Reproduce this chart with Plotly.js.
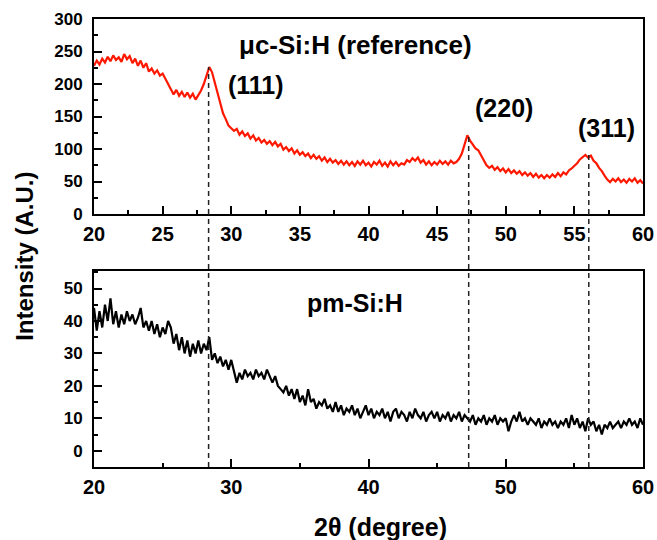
<!DOCTYPE html>
<html>
<head>
<meta charset="utf-8">
<script src="https://cdn.plot.ly/plotly-3.0.1.min.js"></script>
<style>html,body{margin:0;padding:0;background:#fff;}#chart{width:657px;height:540px;}</style>
</head>
<body>
<div id="chart"></div>
<script>
// 2-theta grid: 20.0 to 60.0 in 0.2 degree steps (5 samples per degree)
const twoThetaStart = 20;
const twoThetaStep = 0.2;

// uc-Si:H (reference) intensity, one row per degree
const mcSiH = [
  228,236,230,239,233,
  242,235,244,237,241,
  234,246,238,243,232,
  239,228,236,225,232,
  219,224,216,221,213,
  216,208,200,193,184,
  191,182,188,180,187,
  179,185,176,183,190,
  200,212,226,218,203,
  188,170,155,146,136,
  132,128,131,122,127,
  120,124,116,121,113,
  117,110,114,108,112,
  106,111,104,108,99,
  103,97,101,93,98,
  91,95,89,93,86,
  91,85,89,82,87,
  80,85,79,83,77,
  82,76,81,75,80,
  74,81,76,82,75,
  79,73,80,76,82,
  74,79,73,81,75,
  80,74,78,76,83,
  80,86,82,87,79,
  83,76,81,75,80,
  76,82,77,81,76,
  82,78,80,85,93,
  106,121,113,106,101,
  98,91,82,75,71,
  74,68,72,66,70,
  64,69,63,67,62,
  66,60,64,59,63,
  57,62,56,60,55,
  60,56,61,57,63,
  58,64,61,67,70,
  74,78,84,88,91,
  87,90,82,78,71,
  66,59,53,49,54,
  50,55,49,53,48,
  54,50,55,48,52,
  47
];

// pm-Si:H intensity, one row per degree
const pmSiH = [
  44,37,43,38,45,
  40,47,39,43,38,
  42,39,43,40,42,
  39,41,44,38,40,
  37,40,36,39,35,
  38,36,40,38,33,
  36,31,35,30,34,
  29,33,30,34,30,
  33,31,35,28,30,
  27,29,26,28,25,
  28,24,21,24,22,
  25,23,24,22,25,
  23,24,22,25,23,
  21,23,20,19,18,
  20,17,19,16,19,
  15,17,14,19,15,
  16,13,15,14,16,
  13,14,12,15,12,
  14,11,13,12,14,
  11,13,10,12,14,
  11,13,10,12,11,
  13,10,12,9,12,
  13,10,12,11,9,
  12,10,13,11,10,
  12,9,11,12,10,
  12,9,11,10,12,
  9,11,10,12,9,
  11,10,9,11,8,
  10,9,11,8,10,
  9,11,8,10,9,
  10,6,9,11,9,
  12,9,10,8,10,
  9,8,10,7,9,
  8,10,8,9,7,
  9,8,10,7,11,
  8,10,7,9,6,
  10,8,9,6,8,
  5,8,7,9,7,
  8,9,7,9,8,
  10,8,9,7,10,
  8
];

// Peak positions (degrees) and labels
const peakPositions = [28.35, 47.3, 56.05];
const peakLabels = ["(111)", "(220)", "(311)"];

// Major tick values
const topXTicks = [20, 25, 30, 35, 40, 45, 50, 55, 60];
const topYTicks = [0, 50, 100, 150, 200, 250, 300];
const botXTicks = [20, 30, 40, 50, 60];
const botYTicks = [0, 10, 20, 30, 40, 50];

const twoTheta = mcSiH.map((_, i) => +(twoThetaStart + i * twoThetaStep).toFixed(2));

const topDomain = [0.5647, 1];
const botDomain = [0, 0.4375];
const FONT = "Liberation Sans, Arial, Helvetica, sans-serif";

function peakValue(pos) {
  let m = 0;
  twoTheta.forEach((t, i) => { if (Math.abs(t - pos) <= 0.3 && mcSiH[i] > m) m = mcSiH[i]; });
  return m;
}

const traces = [
  {x: twoTheta, y: mcSiH, xaxis: 'x', yaxis: 'y', mode: 'lines',
   line: {color: 'rgb(255,24,0)', width: 2.2}, hoverinfo: 'skip'},
  {x: twoTheta, y: pmSiH, xaxis: 'x2', yaxis: 'y2', mode: 'lines',
   line: {color: '#000', width: 2.2}, hoverinfo: 'skip'}
];

const dashStyle = {color: '#222', width: 1.5, dash: '5px,4px'};
const shapes = [];
peakPositions.forEach(p => {
  shapes.push({type: 'line', xref: 'x', yref: 'y', x0: p, x1: p, y0: 0, y1: peakValue(p), line: dashStyle});
  shapes.push({type: 'line', xref: 'x', yref: 'paper', x0: p, x1: p, y0: 0, y1: topDomain[0], line: dashStyle});
});

const axBase = {
  showline: true, linecolor: '#000', linewidth: 2, mirror: true,
  ticks: 'inside', ticklen: 8, tickwidth: 2, tickcolor: '#000',
  showgrid: false, zeroline: false
};
const minorBase = {ticks: 'inside', ticklen: 4, tickwidth: 2, tickcolor: '#000', showgrid: false};

function ann(text, x, y, size, extra) {
  return Object.assign({text: text, xref: 'paper', yref: 'paper', x: x, y: y,
    xanchor: 'center', yanchor: 'middle', showarrow: false,
    font: {family: FONT, size: size, weight: 'bold', color: '#000'}}, extra || {});
}

const layout = {
  width: 657, height: 540,
  margin: {l: 94, r: 14, t: 19, b: 73},
  paper_bgcolor: '#fff', plot_bgcolor: '#fff',
  showlegend: false,
  font: {family: FONT, color: '#000'},
  xaxis: Object.assign({}, axBase, {
    domain: [0, 1], anchor: 'y', range: [20, 60], tickvals: topXTicks,
    minor: Object.assign({dtick: 2.5, tick0: 20}, minorBase),
    tickfont: {family: FONT, size: 20, weight: 'bold'}, ticklabelstandoff: 1
  }),
  yaxis: Object.assign({}, axBase, {
    domain: topDomain, anchor: 'x', range: [0, 300], tickvals: topYTicks,
    minor: Object.assign({dtick: 25, tick0: 0}, minorBase),
    tickfont: {family: FONT, size: 17, weight: 'bold'}, ticklabelstandoff: 6
  }),
  xaxis2: Object.assign({}, axBase, {
    domain: [0, 1], anchor: 'y2', range: [20, 60], tickvals: botXTicks,
    minor: Object.assign({dtick: 5, tick0: 20}, minorBase),
    tickfont: {family: FONT, size: 20, weight: 'bold'}, ticklabelstandoff: 1
  }),
  yaxis2: Object.assign({}, axBase, {
    domain: botDomain, anchor: 'x2', range: [-5, 55.4], tickvals: botYTicks,
    minor: Object.assign({dtick: 5, tick0: 0}, minorBase),
    tickfont: {family: FONT, size: 17, weight: 'bold'}, ticklabelstandoff: 6
  }),
  shapes: shapes,
  annotations: [
    ann('μc-Si:H (reference)', 0.477, 0.942, 26),
    ann(peakLabels[0], 0.295, 0.853, 25),
    ann(peakLabels[1], 0.747, 0.801, 25),
    ann(peakLabels[2], 0.934, 0.757, 25),
    ann('pm-Si:H', 0.475, 0.366, 25),
    ann('Intensity (A.U.)', -0.126, 0.471, 24, {textangle: -90}),
    ann('2θ (degree)', 0.521, -0.134, 25)
  ]
};

Plotly.newPlot('chart', traces, layout, {displayModeBar: false});
</script>
</body>
</html>
